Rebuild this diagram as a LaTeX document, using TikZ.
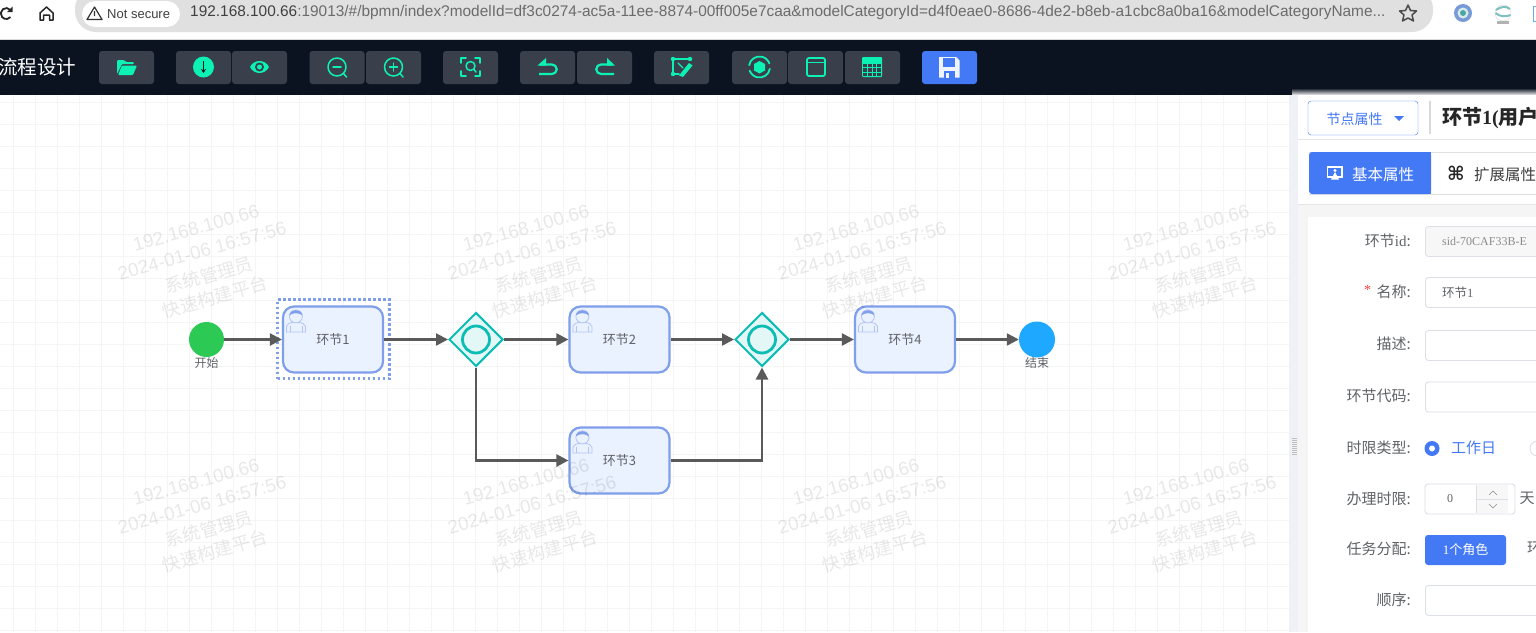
\documentclass[tikz,border=0pt]{standalone}
\usepackage{fontspec}
\setmainfont{Noto Sans CJK SC}
\newfontfamily\latinfont{Liberation Sans}
\newfontfamily\seriffont{Liberation Serif}
\newfontfamily\symbolfont{DejaVu Sans}
\usepackage{tikz}
\usetikzlibrary{arrows.meta,shapes.geometric,positioning}

\definecolor{barbg}{HTML}{0B1220}
\definecolor{btnbg}{HTML}{3A404B}
\definecolor{mint}{HTML}{0CF2B4}
\definecolor{accent}{HTML}{4479F6}
\definecolor{taskline}{HTML}{7F9FEB}
\definecolor{taskfill}{HTML}{EAF1FF}
\definecolor{flowgray}{HTML}{5A5A5A}
\definecolor{gateline}{HTML}{0CBDB3}
\definecolor{gatefill}{HTML}{E3F7F6}
\definecolor{fieldline}{HTML}{DCDFE6}
\definecolor{labelgray}{HTML}{606266}
\definecolor{startgreen}{HTML}{2DC955}
\definecolor{finishblue}{HTML}{1FA8FF}
\definecolor{addressgray}{HTML}{E0E0E0}
\definecolor{stripgray}{HTML}{F0F1F6}

\newcommand{\sz}[1]{\fontsize{#1}{#1}\selectfont}

\tikzset{
	usericon/.pic={
		\draw[taskline!60, line width=0.8pt, fill=taskfill] (-9.5,15.5) -- (-9.5,10) .. controls (-9,7) and (-6,7) .. (-4,6)
			-- (4,6) .. controls (6,7) and (9,7) .. (9.5,10) -- (9.5,15.5) -- cycle;
		\draw[taskline!60, line width=0.8pt, fill=taskfill] (0,0) circle (6.5);
		\fill[taskline] (-6.5,-1) .. controls (-5.5,-8) and (5.5,-8) .. (6.5,-1) .. controls (3,-4) and (-3,-4) .. (-6.5,-1) -- cycle;
		\draw[taskline!60, line width=0.8pt] (-6,10) -- (-6,15.5) (6,10) -- (6,15.5);
	}
}

\begin{document}
\begin{tikzpicture}[x=1pt, y=-1pt,
	btn/.style={fill=btnbg, rounded corners=3pt, minimum width=55pt, minimum height=33pt, inner sep=0pt},
	icon/.style={draw=mint, line width=1.8pt, line cap=round, line join=round},
	task/.style={draw=taskline, fill=taskfill, line width=2.2pt, rounded corners=11pt, minimum width=100pt,
		minimum height=66pt, inner sep=0pt, text=labelgray, font=\sz{13}},
	gateway/.style={diamond, draw=gateline, fill=gatefill, line width=2pt, minimum width=54pt,
		minimum height=54pt, inner sep=0pt},
	gatering/.style={circle, draw=gateline, line width=2.8pt, minimum size=27pt, inner sep=0pt},
	event/.style={circle, minimum size=35pt, inner sep=0pt},
	evlabel/.style={text=labelgray, font=\sz{12}, inner sep=0pt},
	flow/.style={draw=flowgray, line width=2.3pt, -{Triangle[length=12pt,width=12pt]}},
	field/.style={draw=fieldline, line width=0.9pt, rounded corners=3pt, anchor=west, minimum width=140pt, minimum height=30pt, inner sep=0pt},
	formlabel/.style={anchor=east, text=labelgray, font=\sz{15}, inner sep=0pt},
	watermark/.style={rotate=15.5, text=black, text opacity=0.09, inner sep=0pt},
	chrome/.style={text=black!75, inner sep=0pt}
]
	\clip (0,0) rectangle (1536,632);
	\fill[white] (0,0) rectangle (1536,632);

	% Canvas grid
	\foreach \gx in {0,...,58}
		\draw[black!4, line width=0.6pt] ({13.3+22*\gx},95) -- ({13.3+22*\gx},632);
	\foreach \gy in {0,...,24}
		\draw[black!4, line width=0.6pt] (0,{95+7+22*\gy}) -- (1290,{95+7+22*\gy});

	% Browser bar
	\fill[black!14] (0,38.5) rectangle (1536,40);
	\fill[addressgray, rounded corners=21pt] (75,-12) rectangle (1433,32);
	\fill[white, rounded corners=13pt] (82,1) rectangle (180,27);
	\node[chrome, anchor=west, font=\latinfont\sz{13}] (secure) at (107,14) {Not secure};
	\node[chrome, anchor=west, font=\latinfont\sz{15.41}] (url) at (190,13)
		{192.168.100.66\textcolor{black!58}{:19013/\#/bpmn/index?modelId=df3c0274-ac5a-11ee-8874-00ff005e7caa\&modelCategoryId=d4f0eae0-8686-4de2-b8eb-a1cbc8a0ba16\&modelCategoryName...}};
	\draw[black!80, line width=1.2pt, line join=round] (87,19.5) -- (94.5,7) -- (102,19.5) -- cycle (94.5,11) -- (94.5,16);
	\draw[black!85, line width=1.8pt] (10.5,10) arc (-40:-320:5.5);
	\fill[black!85] (12.5,6.5) -- (12.5,12) -- (7,12) -- cycle;
	\draw[black!85, line width=1.5pt, line join=round] (40,13) -- (46.5,7) -- (53,13) -- (53,20) -- (49.5,20) -- (49.5,15) -- (43.5,15) -- (43.5,20) -- (40,20) -- cycle;
	\draw[black!70, line width=1.5pt, line join=round] (1408,5) -- (1410.5,10.5) -- (1416.5,11) -- (1412,15) -- (1413.5,21) -- (1408,18) -- (1402.5,21) -- (1404,15) -- (1399.5,11) -- (1405.5,10.5) -- cycle;
	\fill[cyan!45!blue!55] (1463,13) circle (9);
	\fill[white!85!teal] (1463,13) circle (5.5);
	\fill[teal!70] (1463,13) circle (3);
	\draw[black!12, line width=0.6pt] (1503,13) circle (8);
	\draw[teal!50, line width=2pt] (1496,10) .. controls (1502,6) and (1506,6) .. (1510,9);
	\draw[teal!50, line width=2pt] (1495.5,13) .. controls (1500,17) and (1506,17) .. (1510.5,15);
	\fill[black!30] (1497,21) rectangle (1509,23.5);
	\draw[cyan!70!blue!60, line width=1pt] (1533,6.5) rectangle (1545,21.5);

	% Tool bar
	\fill[barbg] (0,40) rectangle (1536,95);
	\node[text=white, anchor=west, inner sep=0pt, font=\sz{19.5}] (bartitle) at (-2,67) {流程设计};
	\foreach \bx/\bname in {126.5/open,203.5/down,259.5/view,337/out,393.5/in,470.5/scan,547.5/undo,604.5/redo,681.5/edit,759.5/sync,815.5/win,872.5/grid}
		\node[btn] (btn\bname) at (\bx,67.5) {};
	\node[btn, fill=accent] (btnsave) at (949.5,67.5) {};

	% Tool bar icons
	\fill[mint, rounded corners=1pt] (117,74) -- (117,60) -- (124,60) -- (126,62) -- (134,62) -- (134,64) -- (122,64) -- cycle;
	\fill[mint, rounded corners=1pt] (122,65.5) -- (137,65.5) -- (133,75) -- (118,75) -- cycle;
	\fill[mint] (203.5,67) circle (10.5);
	\draw[barbg, line width=1.2pt, -{Stealth[length=4pt,width=5pt]}] (203.5,61) -- (203.5,73);
	\fill[mint] (250,67) .. controls (254,59) and (265,59) .. (269,67) .. controls (265,75) and (254,75) .. (250,67) -- cycle;
	\fill[btnbg] (259.5,67) circle (4.5);
	\fill[mint] (259.5,67) circle (2.5);
	\foreach \zx in {337,393.5} {
		\draw[icon, line width=1.5pt] (\zx,67) circle (9);
		\draw[icon, line width=1.5pt] (\zx+6.5,73.5) -- (\zx+9.5,77);
		\draw[icon, line width=1.5pt] (\zx-4,67) -- (\zx+4,67);
	}
	\draw[icon, line width=1.5pt] (393.5,63) -- (393.5,71);
	\draw[icon] (461,63) -- (461,58) -- (466,58) (475,58) -- (480,58) -- (480,63) (461,71) -- (461,76) -- (466,76) (475,76) -- (480,76) -- (480,71);
	\draw[icon, line width=1.5pt] (470.5,66) circle (4.5) (474,69.5) -- (476,72);
	\draw[icon, line width=2.2pt, line cap=butt] (540,64.5) -- (552,64.5) arc (-90:90:4.75) -- (539,74);
	\fill[mint] (537.5,65.5) -- (546,58) -- (546,65.5) -- cycle;
	\draw[icon, line width=2.2pt, line cap=butt] (612,64.5) -- (601,64.5) arc (270:90:4.75) -- (614,74);
	\fill[mint] (615,65.5) -- (607,58) -- (607,65.5) -- cycle;
	\draw[icon, line width=1.5pt] (690,59) -- (673,59) -- (673,74) -- (679,74);
	\fill[mint] (679,75.5) -- (689,63) -- (692.5,65.5) -- (683,77) -- cycle;
	\fill[mint] (673,59) circle (2.2) (690,59) circle (2.2) (673,74) circle (2.2);
	\draw[icon, line width=1.2pt] (678,63) -- (683,68);
	\draw[icon] (759.5,67) ++(-170:10.5) arc (-170:-20:10.5);
	\draw[icon] (759.5,67) ++(10:10.5) arc (10:160:10.5);
	\fill[mint] (759.5,61) -- (765,64) -- (765,70.5) -- (759.5,73.5) -- (754,70.5) -- (754,64) -- cycle;
	\draw[icon, rounded corners=2pt] (807,58) rectangle (825,76);
	\draw[icon, line width=1.2pt] (807,62.5) -- (825,62.5);
	\fill[mint, rounded corners=1pt] (862,57) rectangle (882,77);
	\foreach \cx in {0,1,2,3} \foreach \cy in {0,1,2}
		\fill[btnbg] ({863.3+4.6*\cx},{64+4.3*\cy}) rectangle ({866.9+4.6*\cx},{67.3+4.3*\cy});
	\fill[white!92!accent] (939,57) -- (956,57) -- (959.5,60.5) -- (959.5,77.5) -- (939,77.5) -- cycle;
	\fill[accent] (943,58) rectangle (955,67);
	\fill[accent] (944,70.5) rectangle (955,77.5);
	\fill[white!92!accent] (946,72.5) rectangle (949,77.5);

	% Right panel
	\shade[top color=barbg, bottom color=white] (1292,88) rectangle (1536,95.5);
	\fill[stripgray] (1289,95) rectangle (1298,632);
	\fill[white] (1298,95) rectangle (1536,204);
	\fill[black!4] (1298,204) rectangle (1536,632);
	\fill[white] (1308,217) rectangle (1536,632);
	\draw[black!10] (1298,139) -- (1536,139) (1298,204) -- (1536,204);
	\foreach \hy in {438,440,442,444,446,448,450,452,454}
		\draw[black!25] (1292,\hy) -- (1297,\hy);
	\node[draw=accent, rounded corners=3pt, minimum width=110pt, minimum height=34pt, inner sep=0pt] (dropbox) at (1363,118) {};
	\node[text=accent, font=\sz{14}, inner sep=0pt] (droptext) at (1354.5,119) {节点属性};
	\fill[accent] (1394,116) -- (1404,116) -- (1399,121) -- cycle;
	\draw[black!15, line width=1.2pt] (1430,101) -- (1430,134);
	\node[anchor=west, inner sep=0pt, text=black!85, font=\sz{20}] (paneltitle) at (1442,118) {\textbf{环节{\seriffont 1(}用户}};

	% Tabs
	\draw[black!12] (1309,152) -- (1536,152) (1309,194) -- (1536,194);
	\fill[accent, rounded corners=3pt] (1309,152) rectangle (1431,194);
	\fill[accent] (1420,152) rectangle (1431,194);
	\draw[white, line width=1.3pt] (1327.5,167) rectangle (1342,177);
	\fill[white] (1331,179.5) -- (1335,172) -- (1339,179.5) -- cycle;
	\fill[white] (1335,170.5) circle (1.7);
	\node[anchor=west, text=white, inner sep=0pt, font=\sz{15.5}] (tabbase) at (1352,174.5) {基本属性};
	\node[anchor=west, text=black!85, inner sep=0pt, font=\symbolfont\bfseries\sz{19}] (tabcmd) at (1447,173) {⌘};
	\node[anchor=west, text=black!75, inner sep=0pt, font=\sz{15.5}] (tabext) at (1474,174.5) {扩展属性};

	% Form fields
	\node[field, fill=black!3] (fid) at (1425,241.5) {};
	\node[anchor=west, inner sep=0pt, text=black!45, font=\seriffont\sz{12}] (fidval) at (1442,241.5) {sid-70CAF33B-E};
	\node[field] (fname) at (1425,292.5) {};
	\node[anchor=west, inner sep=0pt, text=labelgray, font=\sz{12.5}] (fnameval) at (1442,293) {环节{\seriffont 1}};
	\node[field] (fdesc) at (1425,345.5) {};
	\node[field] (fcode) at (1425,397) {};
	\node[field] (forder) at (1425,600.5) {};
	\foreach \fy/\ftext [count=\fnum] in {241/环节{\seriffont id}:,292/名称:,344/描述:,396/环节代码:,448/时限类型:,498.5/办理时限:,549/任务分配:,600/顺序:}
		\node[formlabel] (lab\fnum) at (1411,\fy) {\ftext};
	\node[text=red!75, inner sep=0pt, font=\seriffont\sz{14}] (fstar) at (1367.5,290) {*};

	% Radio, spinner and role button
	\node[circle, fill=accent, minimum size=15pt, inner sep=0pt] (radioa) at (1432,448.5) {};
	\fill[white] (radioa) circle (3);
	\node[anchor=west, text=accent, inner sep=0pt, font=\sz{15}] (radiotext) at (1451,448) {工作日};
	\node[circle, draw=fieldline, line width=0.9pt, minimum size=15pt, inner sep=0pt] (radiob) at (1537.5,448.5) {};
	\node[draw=fieldline, line width=0.9pt, rounded corners=3pt, minimum width=90pt, minimum height=30pt, inner sep=0pt] (spinbox) at (1470,499) {};
	\fill[black!3] (1476.5,485) rectangle (1508,513);
	\draw[fieldline] (1476.5,485) -- (1476.5,513) (1476.5,499.5) -- (1508,499.5);
	\draw[black!45] (1489,495) -- (1493,491) -- (1497,495) (1489,504) -- (1493,508) -- (1497,504);
	\node[text=labelgray, inner sep=0pt, font=\seriffont\sz{12}] (spinval) at (1450,499) {0};
	\node[text=labelgray, inner sep=0pt, font=\sz{15}] (spinunit) at (1527,498) {天};
	\node[fill=accent, rounded corners=3pt, minimum width=81pt, minimum height=30pt, inner sep=0pt,
		text=white, font=\sz{13}] (rolebtn) at (1465.5,550) {{\seriffont 1}个角色};
	\node[anchor=west, text=labelgray, inner sep=0pt, font=\sz{15}] (roletext) at (1527,548) {环节};

	% Flow nodes
	\node[event, fill=startgreen] (start) at (206.5,339.5) {};
	\node[task] (task1) at (333,339.5) {环节1};
	\node[gateway] (gate1) at (476,339.5) {};
	\node[gatering] (ring1) at (gate1) {};
	\node[task] (task2) at (619.5,339.5) {环节2};
	\node[task] (task3) at (619.5,460.5) {环节3};
	\node[gateway] (gate2) at (762,339.5) {};
	\node[gatering] (ring2) at (gate2) {};
	\node[task] (task4) at (905,339.5) {环节4};
	\node[event, fill=finishblue, minimum size=36pt] (finish) at (1037,339.5) {};
	\node[evlabel, below=0pt of start.south] (startlab) {开始};
	\node[evlabel, below=0pt of finish.south] (finishlab) {结束};
	\node[draw=taskline, line width=2.5pt, dash pattern=on 2.5pt off 2.5pt, minimum width=112pt, minimum height=79pt,
		inner sep=0pt] (select) at (333.5,339) {};

	% User marks
	\foreach \tname in {task1,task2,task3,task4}
		\pic at ([shift={(14,11)}]\tname.north west) {usericon};

	% Flows
	\draw[flow] (start) -- (task1);
	\draw[flow] (task1) -- (gate1);
	\draw[flow] (gate1) -- (task2);
	\draw[flow] (task2) -- (gate2);
	\draw[flow] (gate2) -- (task4);
	\draw[flow] (task4) -- (finish);
	\draw[flow] (gate1.south) |- (task3.west);
	\draw[flow] (task3.east) -| (gate2.south);

	% Watermarks
	\foreach \wx [count=\wi] in {0,330,660,990}
		\foreach \wy [count=\wj] in {0,254} {
			\node[watermark, font=\latinfont\sz{18.7}] (wa\wi\wj) at (196+\wx,228+\wy) {192.168.100.66};
			\node[watermark, font=\latinfont\sz{18.7}] (wb\wi\wj) at (202+\wx,251+\wy) {2024-01-06 16:57:56};
			\node[watermark, font=\sz{18}] (wc\wi\wj) at (209+\wx,275+\wy) {系统管理员};
			\node[watermark, font=\sz{18}] (wd\wi\wj) at (215+\wx,297+\wy) {快速构建平台};
		}
\end{tikzpicture}
\end{document}
